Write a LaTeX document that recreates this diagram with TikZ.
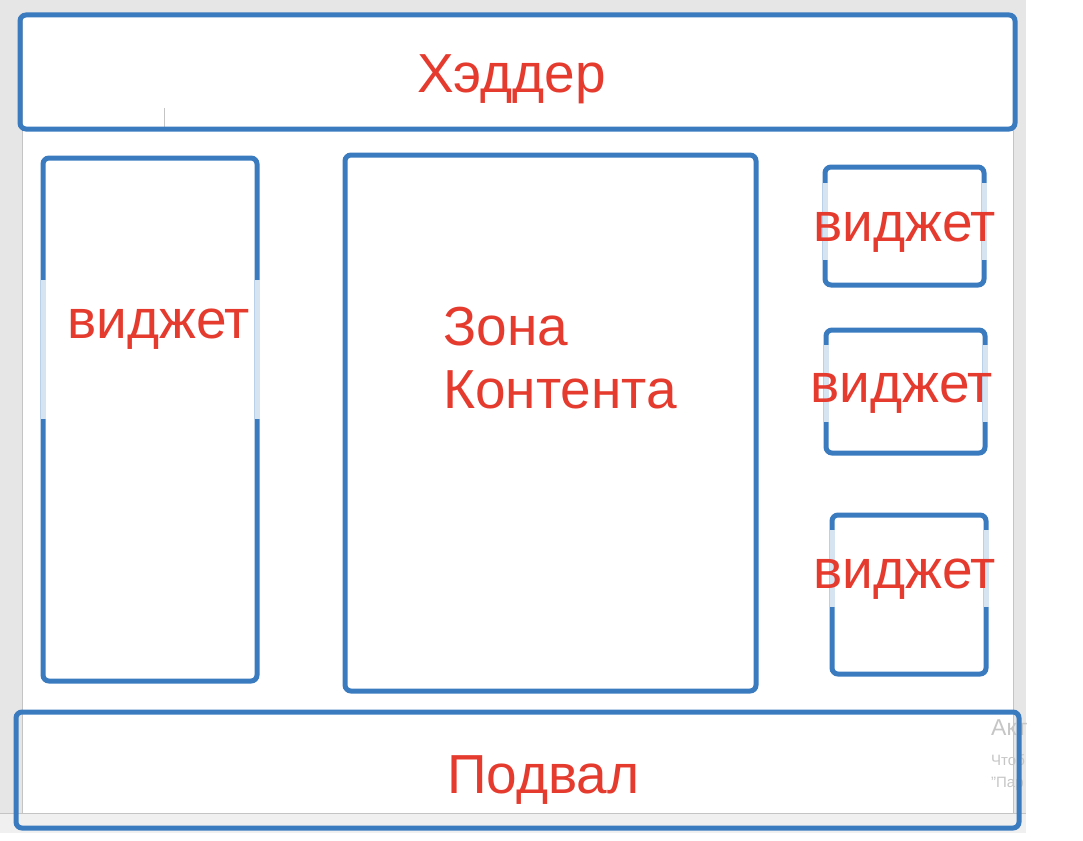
\documentclass[tikz,border=0pt]{standalone}
\usepackage{fontspec}
\setmainfont{Liberation Sans}
\definecolor{boxblue}{HTML}{3A7ABF}
\definecolor{boxpale}{HTML}{D6E4F2}
\definecolor{textred}{HTML}{E53B2F}
\definecolor{chrome}{HTML}{E6E6E6}
\definecolor{chromelow}{HTML}{F0F0F0}
\definecolor{edgegray}{HTML}{C4C4C4}
\definecolor{watermark}{HTML}{C6C6C6}
\tikzset{
  block/.style={draw=boxblue, line width=5pt, rounded corners=6pt},
  paleside/.style={draw=boxpale, line width=5pt},
  caption/.style={text=textred, inner sep=0pt, anchor=base west, font=\fontsize{55}{63}\selectfont},
  wmark/.style={text=watermark, inner sep=0pt, anchor=base west},
}
\begin{document}
\begin{tikzpicture}[x=1pt, y=-1pt]
	  \useasboundingbox (0,0) rectangle (1083,840);
	  \fill [white] (0,0) rectangle (1083,840);
	  \fill [chrome] (0,0) rectangle (1026,813);
	  \fill [chromelow] (0,813) rectangle (1026,833);
	  \fill [white] (22,14) rectangle (1013,813);
	  \draw [edgegray] (22,14)--(22,813);
	  \draw [edgegray] (1013,14)--(1013,813);
	  \draw [edgegray] (0,813)--(1026,813);
	  \draw [edgegray] (164,108)--(164,128);

	  \node [wmark, font=\fontsize{23}{23}\selectfont] (actA) at (991,735) {Акт};
	  \node [wmark, font=\fontsize{15}{15}\selectfont] (actB) at (991,765) {Чтоб};
	  \node [wmark, font=\fontsize{15}{15}\selectfont] (actC) at (991,787) {"Пар};

	  \draw [block] (20,15) rectangle (1015,129);
	  \draw [block] (43,158) rectangle (257,681);
	  \draw [block] (345,155) rectangle (756,691);
	  \draw [block] (825,167) rectangle (984,285);
	  \draw [block] (826,330) rectangle (985,453);
	  \draw [block] (832,515) rectangle (986,674);
	  \draw [block] (16,712) rectangle (1019,828);

	  \draw [paleside] (43,280)--(43,419);
	  \draw [paleside] (257,280)--(257,419);
	  \draw [paleside] (825,183)--(825,260);
	  \draw [paleside] (984,183)--(984,260);
	  \draw [paleside] (826,345)--(826,422);
	  \draw [paleside] (985,345)--(985,422);
	  \draw [paleside] (832,530)--(832,607);
	  \draw [paleside] (986,530)--(986,607);

	  \node [caption] (header) at (417,93) {Хэддер};
	  \node [caption] (leftwidget) at (67,338) {виджет};
	  \node [caption] (zone) at (443,345) {Зона};
	  \node [caption] (content) at (443,408) {Контента};
	  \node [caption] (widgetA) at (813,241) {виджет};
	  \node [caption] (widgetB) at (810,402) {виджет};
	  \node [caption] (widgetC) at (813,588) {виджет};
	  \node [caption] (footer) at (447,793) {Подвал};
	\end{tikzpicture}
\end{document}
